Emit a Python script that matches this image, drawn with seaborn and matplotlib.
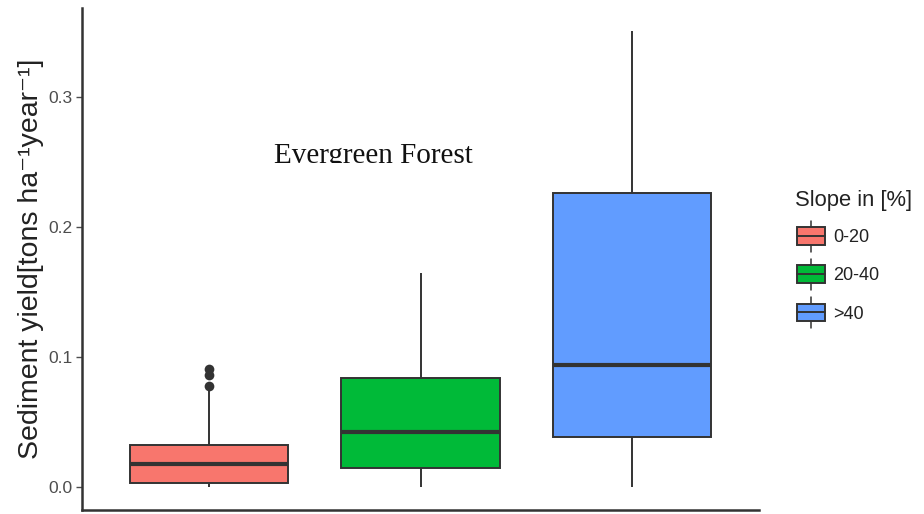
"""
Evergreen Forest - sediment yield by slope class (boxplot, ggplot-like look)
"""

import numpy as np
import pandas as pd
import seaborn as sns
import matplotlib
matplotlib.use("Agg")
import matplotlib.pyplot as plt
from matplotlib.legend_handler import HandlerBase
from matplotlib.patches import Rectangle, Patch
from matplotlib.lines import Line2D
from matplotlib.transforms import Bbox

# ─── DATA ────────────────────────────────────────────────────────────────────
slopes    = ["0-20", "20-40", ">40"]
colors    = ["#F8766D", "#00BA38", "#619CFF"]

# five-number summaries per slope class: lower whisker, Q1, median, Q3, upper whisker
whisk_lo  = [0.000, 0.000, 0.000]
q1        = [0.003, 0.0147, 0.0386]
median    = [0.0178, 0.0425, 0.094]
q3        = [0.0324, 0.084, 0.226]
whisk_hi  = [0.076, 0.165, 0.351]

# outliers of the 0-20 class
outlier_vals = [0.0775, 0.0865, 0.0905]

TITLE   = "Evergreen Forest"
YLABEL  = "Sediment yield[tons ha\u207b\u00b9year\u207b\u00b9]"
LEGEND_TITLE = "Slope in [%]"

EDGE = "#333333"

# ─── build long table from the summaries ─────────────────────────────────────
rows = []
for i, s in enumerate(slopes):
    for v in (whisk_lo[i], q1[i], median[i], q3[i], whisk_hi[i]):
        rows.append({"slope": s, "value": v})
df = pd.DataFrame(rows)
df_out = pd.DataFrame({"slope": [slopes[0]] * len(outlier_vals), "value": outlier_vals})


class BoxKeyHandler(HandlerBase):
    """Legend key that looks like a small ggplot box glyph."""
    def create_artists(self, legend, orig_handle, xdescent, ydescent,
                       width, height, fontsize, trans):
        fc = orig_handle.get_facecolor()
        x0 = width * 0.06 - xdescent
        bw = width * 0.82
        bh = height * 1.1
        y0 = -ydescent - height * 0.05
        cx = x0 + bw / 2
        cy = y0 + bh / 2
        box = Rectangle((x0, y0), bw, bh, facecolor=fc, edgecolor=EDGE,
                        linewidth=1.4, transform=trans)
        med = Line2D([x0, x0 + bw], [cy, cy], color=EDGE, linewidth=1.4, transform=trans)
        w1 = Line2D([cx, cx], [y0 + bh, y0 + bh + height * 0.42], color=EDGE,
                    linewidth=1.1, transform=trans)
        w2 = Line2D([cx, cx], [y0, y0 - height * 0.42], color=EDGE,
                    linewidth=1.1, transform=trans)
        return [w1, w2, box, med]


def main():
    sns.set_theme(style="white")
    plt.rcParams["font.family"] = ["Liberation Sans", "DejaVu Sans"]

    fig = plt.figure(figsize=(9.24, 5.14), dpi=100)
    ax = fig.add_axes([82 / 924, 4 / 514, (759 - 82) / 924, (510 - 8) / 514])

    sns.boxplot(data=df, x="slope", y="value", hue="slope", order=slopes,
                hue_order=slopes, palette=colors, width=0.75, whis=np.inf,
                showcaps=False, showfliers=False, linewidth=1.4, linecolor=EDGE,
                medianprops=dict(linewidth=3.0, color=EDGE),
                saturation=1, legend=False, ax=ax)
    sns.stripplot(data=df_out, x="slope", y="value", order=slopes, jitter=False,
                  color=EDGE, size=7, ax=ax)

    ax.set_xlim(-0.6, 2.6)
    ax.set_ylim(-0.0176, 0.3686)
    ax.set_yticks([0.0, 0.1, 0.2, 0.3])
    ax.set_yticklabels(["0.0", "0.1", "0.2", "0.3"])
    ax.set_xticks([])
    ax.set_xlabel("")
    ax.set_ylabel(YLABEL, fontsize=20.5, color="#222222", labelpad=3)

    ax.tick_params(axis="y", left=True, length=4, width=1, color="#4D4D4D",
                   labelsize=12.5, labelcolor="#4D4D4D", pad=3)
    for side in ("top", "right"):
        ax.spines[side].set_visible(False)
    for side in ("left", "bottom"):
        ax.spines[side].set_color("#333333")
        ax.spines[side].set_linewidth(1.8)

    # title pasted inside the panel; its descenders are cut off in the original
    t = ax.text(0.775, 0.255, TITLE, ha="center", va="center", fontsize=21,
                family="Liberation Serif", color="#111111")
    t.set_clip_box(Bbox.from_extents(0, 514 - 162.5, 924, 514))
    t.set_clip_on(True)

    handles = [Patch(facecolor=c, edgecolor=EDGE) for c in colors]
    leg = fig.legend(handles, slopes, title=LEGEND_TITLE,
                     handler_map={Patch: BoxKeyHandler()},
                     loc="upper left", bbox_to_anchor=(781 / 924, 1 - 176 / 514),
                     frameon=False, fontsize=13, title_fontsize=15.8,
                     handlelength=1.85, handleheight=1.0, handletextpad=0.22,
                     labelspacing=1.1, borderpad=0.3)
    leg._legend_box.align = "left"
    leg._legend_box.sep = 12
    for txt in leg.get_texts():
        txt.set_color("#222222")
    leg.get_title().set_color("#222222")

    fig.savefig("out.png", dpi=100)
    plt.close(fig)


if __name__ == "__main__":
    main()
